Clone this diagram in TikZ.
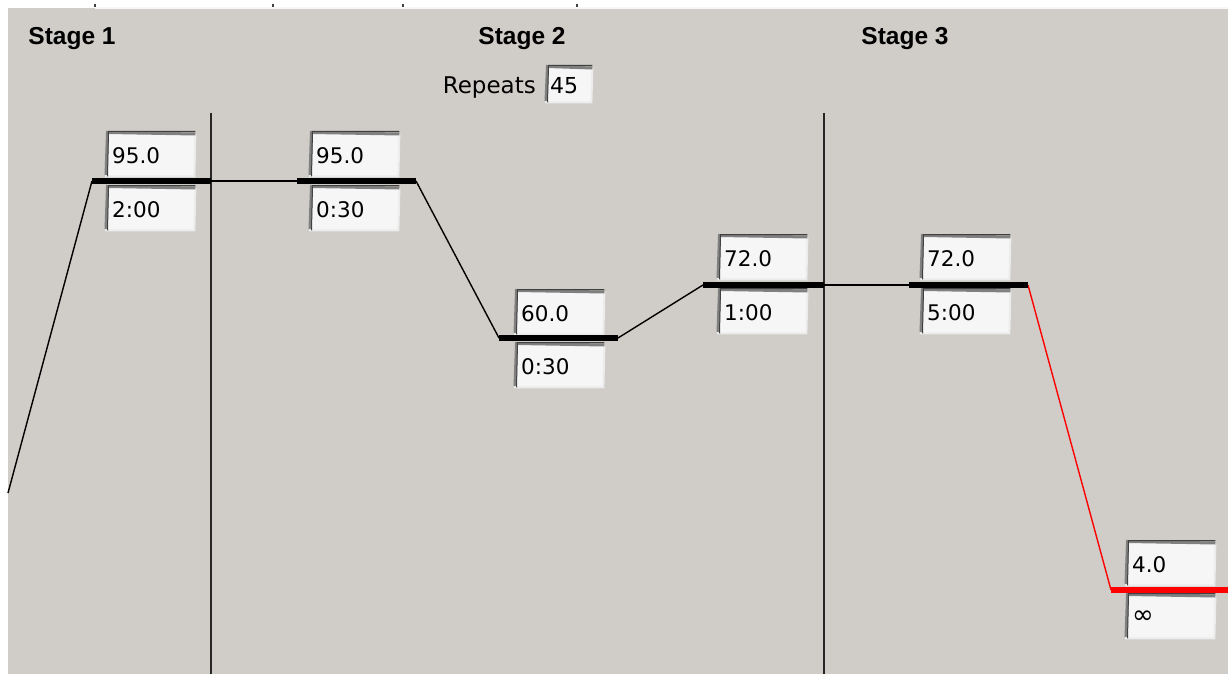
\documentclass[tikz,border=0pt]{standalone}
\usepackage{fontspec}
\setmainfont{Liberation Sans}
\newfontfamily\boxfont{DejaVu Sans}
\definecolor{bg}{RGB}{208,204,199}
\definecolor{boxfill}{RGB}{246,246,246}
\definecolor{shadegray}{RGB}{128,128,128}
\definecolor{darkedge}{RGB}{64,64,64}
\definecolor{lightedge}{RGB}{236,236,236}
\begin{document}
\begin{tikzpicture}[x=1pt,y=-1pt,
  field/.style={anchor=north west, minimum width=89pt, minimum height=42pt,
    inner xsep=6pt, inner ysep=0pt, text width=77pt, align=left,
    fill=boxfill, font=\boxfont\fontsize{21.5}{21.5}\selectfont},
  stagelabel/.style={anchor=base, inner sep=0pt, font=\bfseries\fontsize{24.5}{24.5}\selectfont},
  plateau/.style={line width=6pt, black},
  ramp/.style={line width=1.4pt, black},
  redplateau/.style={line width=5.5pt, red},
  redramp/.style={line width=1.4pt, red},
  divider/.style={line width=1.5pt, black!85},
  tick/.style={line width=1.5pt, black!75}]
\useasboundingbox (0,0) rectangle (1228,674);
% background
\fill[white] (0,0) rectangle (1228,674);
\fill[bg] (8,8) rectangle (1228,674);
\draw[line width=1.5pt, white!85!bg] (95,8) -- (1228,8);
\foreach \tx in {95,273,403,577} \draw[tick] (\tx,4.5) -- (\tx,7.5);

% stage labels
\node[stagelabel] (s1) at (72,45) {Stage 1};
\node[stagelabel] (s2) at (522,45) {Stage 2};
\node[stagelabel] (s3) at (905,45) {Stage 3};

% repeats
\node[anchor=base east, inner sep=0pt, font=\boxfont\fontsize{23}{23}\selectfont] (rep) at (536,94) {Repeats};
\node[anchor=north west, minimum width=46pt, minimum height=34pt, inner xsep=4pt, inner ysep=0pt,
  text width=38pt, align=left, fill=boxfill, font=\boxfont\fontsize{22}{22}\selectfont] (rn) at (546,68) {45};

% dividers
\coordinate (d1t) at (211,113); \coordinate (d1b) at (211,674);
\coordinate (d2t) at (824,113); \coordinate (d2b) at (824,674);
\draw[divider] (d1t) -- (d1b);
\draw[divider] (d2t) -- (d2b);

% fields
\node[field] (t1) at (106,134) {95.0};
\node[field] (h1) at (106,188) {2:00};
\node[field] (t2) at (310,134) {95.0};
\node[field] (h2) at (310,188) {0:30};
\node[field] (t3) at (515,292) {60.0};
\node[field] (h3) at (515,345) {0:30};
\node[field] (t4) at (718,237) {72.0};
\node[field] (h4) at (718,291) {1:00};
\node[field] (t5) at (921,237) {72.0};
\node[field] (h5) at (921,291) {5:00};
\node[field] (t6) at (1126,543) {4.0};
\node[field] (h6) at (1126,596) {\raisebox{-3pt}{\fontsize{26}{26}\selectfont ∞}};

\foreach \n in {t1,h1,t2,h2,t3,h3,t4,h4,t5,h5,t6,h6,rn} {
  \draw[lightedge, line width=2pt] ([xshift=-1pt]\n.south west) -- ([xshift=-1pt]\n.south east) -- (\n.north east);
  \draw[shadegray, line width=3pt] ([yshift=1.5pt]\n.south west) -- ([xshift=1.5pt,yshift=1.5pt]\n.north west) -- (\n.north east);
  \draw[darkedge, line width=1pt] ([xshift=1.5pt]\n.south west) -- ([xshift=2.5pt,yshift=2.5pt]\n.north west) -- ([yshift=2.5pt]\n.north east);
}

% profile coordinates
\coordinate (start) at (8,493);
\coordinate (p1s) at (92,181);  \coordinate (p1e) at (211,181);
\coordinate (p2s) at (297,181); \coordinate (p2e) at (416,181);
\coordinate (p3s) at (499,338); \coordinate (p3e) at (618,338);
\coordinate (p4s) at (703,285); \coordinate (p4e) at (824,285);
\coordinate (p5s) at (909,285); \coordinate (p5e) at (1028,285);
\coordinate (p6s) at (1111,590); \coordinate (p6e) at (1228,590);

\draw[ramp] (start) -- (p1s);
\draw[ramp] (p1e) -- (p2s);
\draw[ramp] (p2e) -- (p3s);
\draw[ramp] (p3e) -- (p4s);
\draw[ramp] (p4e) -- (p5s);
\draw[redramp] (p5e) -- (p6s);

\draw[plateau] (p1s) -- (p1e);
\draw[plateau] (p2s) -- (p2e);
\draw[plateau] (p3s) -- (p3e);
\draw[plateau] (p4s) -- (p4e);
\draw[plateau] (p5s) -- (p5e);
\draw[redplateau] (p6s) -- (p6e);
\end{tikzpicture}
\end{document}
